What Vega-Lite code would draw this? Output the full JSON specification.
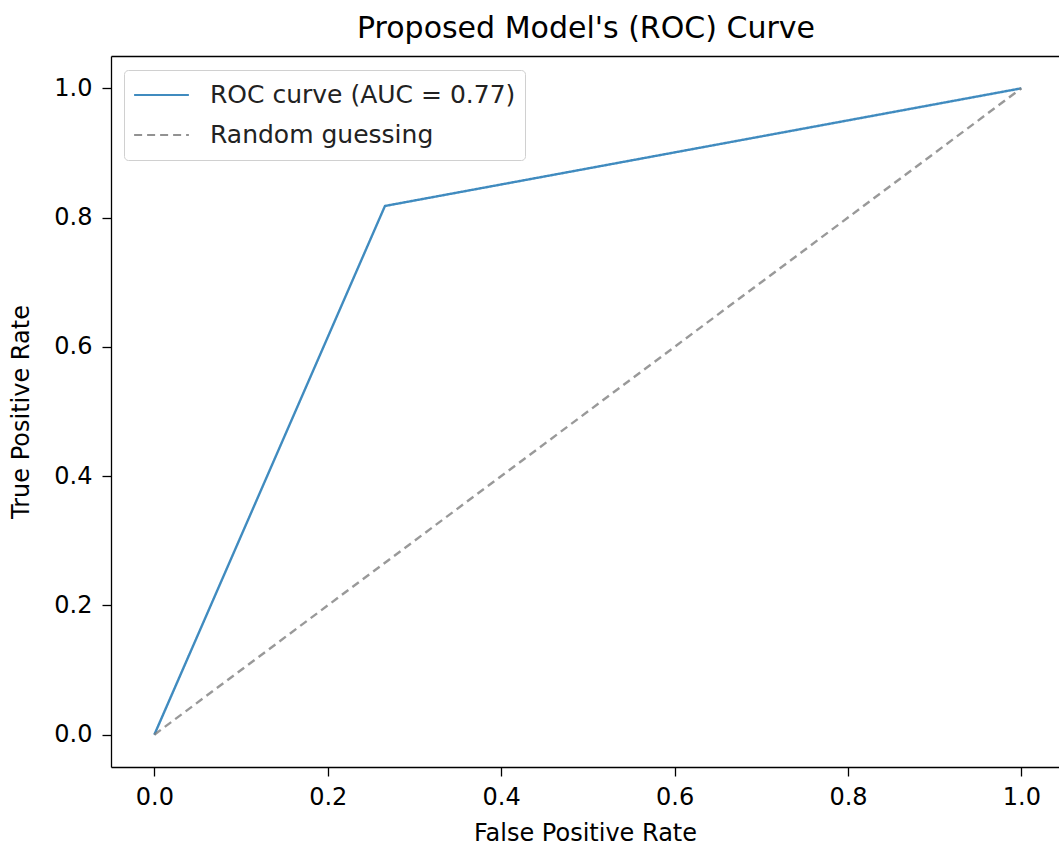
{
  "$schema": "https://vega.github.io/schema/vega-lite/v6.json",
  "width": 948,
  "height": 711,
  "autosize": {"type": "none"},
  "padding": {"left": 111, "top": 56, "right": 0, "bottom": 82},
  "title": {"text": "Proposed Model's (ROC) Curve", "fontSize": 30, "font": "DejaVu Sans", "fontWeight": "normal", "anchor": "middle", "offset": 12, "color": "black", "dx": 1},
  "config": {
    "view": {"stroke": null},
    "font": "DejaVu Sans",
    "axis": {"labelFontSize": 24, "titleFontSize": 24, "labelColor": "black", "titleColor": "black", "tickColor": "black", "domainColor": "black", "domainWidth": 1.3, "tickWidth": 1.3, "tickSize": 9, "grid": false, "titleFontWeight": "normal", "labelFont": "DejaVu Sans", "titleFont": "DejaVu Sans"}
  },
  "data": {"values": [
    {"fpr": 0.0, "tpr": 0.0, "series": "ROC curve (AUC = 0.77)"},
    {"fpr": 0.266, "tpr": 0.818, "series": "ROC curve (AUC = 0.77)"},
    {"fpr": 1.0, "tpr": 1.0, "series": "ROC curve (AUC = 0.77)"},
    {"fpr": 0.0, "tpr": 0.0, "series": "Random guessing"},
    {"fpr": 1.0, "tpr": 1.0, "series": "Random guessing"}
  ]},
  "encoding": {
    "y": {"field": "tpr", "type": "quantitative", "scale": {"domain": [-0.05, 1.05], "nice": false, "zero": false},
      "axis": {"title": "True Positive Rate", "values": [0, 0.2, 0.4, 0.6, 0.8, 1.0], "format": ".1f", "labelPadding": 10, "titlePadding": 20}},
    "color": {"field": "series", "type": "nominal",
      "scale": {"domain": ["ROC curve (AUC = 0.77)", "Random guessing"], "range": ["#1f77b4", "#7f7f7f"]},
      "legend": {"title": null, "orient": "none", "legendX": 13, "legendY": 14, "symbolType": "stroke", "symbolSize": 3000, "symbolStrokeWidth": 2, "labelFontSize": 25, "labelLimit": 500, "labelColor": "#222", "labelFont": "DejaVu Sans", "fillColor": "rgba(255,255,255,0.85)", "strokeColor": "#d0d0d0", "cornerRadius": 4, "padding": 9, "clipHeight": 32, "rowPadding": 8, "labelOffset": 20, "symbolOpacity": 0.85}},
    "strokeDash": {"field": "series", "type": "nominal",
      "scale": {"domain": ["ROC curve (AUC = 0.77)", "Random guessing"], "range": [[1, 0], [8, 5]]},
      "legend": {"title": null}}
  },
  "layer": [
    {
      "transform": [{"filter": "datum.series === 'ROC curve (AUC = 0.77)'"}],
      "mark": {"type": "line", "strokeWidth": 2.4, "opacity": 0.85},
      "encoding": {
        "x": {"field": "fpr", "type": "quantitative", "scale": {"domain": [-0.05, 1.0434], "nice": false, "zero": false},
          "axis": {"title": "False Positive Rate", "orient": "bottom", "values": [0, 0.2, 0.4, 0.6, 0.8, 1.0], "format": ".1f", "labelPadding": 9, "titlePadding": 12}}
      }
    },
    {
      "transform": [{"filter": "datum.series === 'Random guessing'"}],
      "mark": {"type": "line", "strokeWidth": 2.4, "opacity": 0.8},
      "encoding": {
        "x": {"field": "fpr", "type": "quantitative", "scale": {"domain": [-0.05, 1.0434], "nice": false, "zero": false},
          "axis": {"title": null, "orient": "top", "labels": false, "ticks": false}}
      }
    }
  ],
  "resolve": {"axis": {"x": "independent"}}
}
